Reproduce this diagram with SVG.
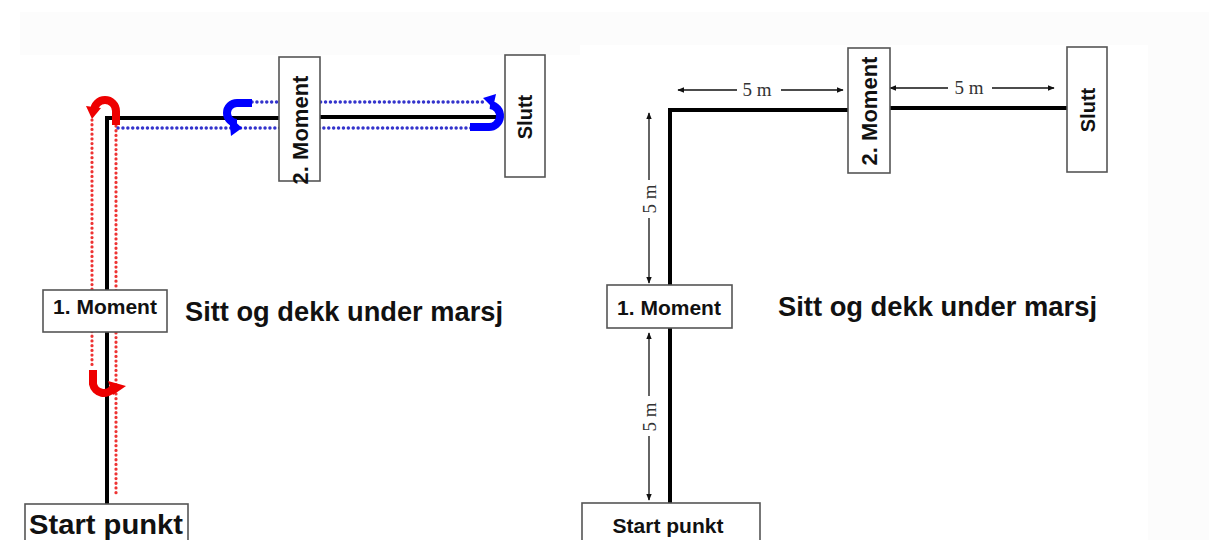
<svg xmlns="http://www.w3.org/2000/svg" width="1209" height="540" viewBox="0 0 1209 540">
<style>
.box{fill:#fff;stroke:#555;stroke-width:1.6}
.path{fill:none;stroke:#000;stroke-width:4}
.lbl{font-family:"Liberation Sans",Arial,sans-serif;font-weight:bold;fill:#111}
.dim{font-family:"Liberation Serif","Times New Roman",serif;fill:#333;font-size:19px}
.dimline{stroke:#111;stroke-width:1.3;fill:none}
.red{fill:none;stroke:#e33;stroke-width:3.2;stroke-dasharray:0.1 4.6;stroke-linecap:round}
.blue{fill:none;stroke:#33c;stroke-width:3.4;stroke-dasharray:0.1 4.8;stroke-linecap:round}
.redarc{fill:none;stroke:#e00;stroke-width:8}
.bluearc{fill:none;stroke:#00f;stroke-width:8}
</style>
<defs>
<marker id="ah" viewBox="0 0 10 10" refX="9" refY="5" markerWidth="7" markerHeight="7" orient="auto-start-reverse" markerUnits="userSpaceOnUse">
<path d="M0,1 L10,5 L0,9 Z" fill="#111"/>
</marker>
</defs>
<rect width="1209" height="540" fill="#fff"/>
<rect x="20" y="12" width="1130" height="43" fill="#fcfcfc"/>
<rect x="1148" y="12" width="61" height="528" fill="#fcfcfc"/>
<rect x="580" y="45" width="568" height="10" fill="#fff"/>

<g id="connectors">
<path class="path" d="M107,505 L107,118 L280,118"/>
<path class="path" d="M320,117 L500,117" stroke-width="5"/>
<path class="red" d="M92,120 L92,368"/>
<path class="red" d="M116,126 L116,495"/>
<path class="blue" d="M252,102 L484,102"/>
<path class="blue" d="M118,128 L474,128"/>
<path class="path" d="M670,505 L670,110 L849,110"/>
<path class="path" d="M890,108 L1068,108"/>
<path class="dimline" d="M737,90 L678,90" marker-end="url(#ah)"/>
<path class="dimline" d="M781,90 L843,90" marker-end="url(#ah)"/>
<path class="dimline" d="M948,88 L890,88" marker-end="url(#ah)"/>
<path class="dimline" d="M992,88 L1054,88" marker-end="url(#ah)"/>
<path class="dimline" d="M649,180 L649,113" marker-end="url(#ah)"/>
<path class="dimline" d="M649,218 L649,283" marker-end="url(#ah)"/>
<path class="dimline" d="M649,396 L649,333" marker-end="url(#ah)"/>
<path class="dimline" d="M649,436 L649,500" marker-end="url(#ah)"/>
<text class="dim" x="757" y="96" text-anchor="middle">5 m</text>
<text class="dim" x="969" y="94" text-anchor="middle">5 m</text>
<text class="dim" transform="translate(656,199) rotate(-90)" text-anchor="middle">5 m</text>
<text class="dim" transform="translate(656,417) rotate(-90)" text-anchor="middle">5 m</text>
</g>

<g id="turn-arrows">
<path class="redarc" d="M116,125 L116,111 A11,11 0 0 0 94,111"/>
<polygon points="86,106 101,108 92,119" fill="#e00"/>
<path class="redarc" d="M93,370 L93,384 A11,11 0 0 0 113,388"/>
<polygon points="108,381 126,386 113,395" fill="#e00"/>
<path class="bluearc" d="M252,103 L237,103 A10,10 0 0 0 237,123"/>
<polygon points="229,116 242,128 231,136" fill="#00f"/>
<path class="bluearc" d="M470,127 L488,127 A11,11 0 0 0 490,105"/>
<polygon points="483,98 496,94 493,108" fill="#00f"/>
</g>

<g id="start-left">
<rect class="box" x="25" y="504" width="163" height="40"/>
<text class="lbl" x="106" y="534" text-anchor="middle" font-size="28" textLength="154" lengthAdjust="spacingAndGlyphs">Start punkt</text>
</g>
<g id="moment1-left">
<rect class="box" x="43" y="290" width="124" height="42"/>
<text class="lbl" x="105" y="314" text-anchor="middle" font-size="21">1. Moment</text>
</g>
<g id="moment2-left">
<rect class="box" x="279" y="57" width="41" height="124"/>
<text class="lbl" transform="translate(308,130) rotate(-90)" text-anchor="middle" font-size="22">2. Moment</text>
</g>
<g id="slutt-left">
<rect class="box" x="505" y="55" width="40" height="122"/>
<text class="lbl" transform="translate(532,117) rotate(-90)" text-anchor="middle" font-size="20">Slutt</text>
</g>
<text class="lbl" x="185" y="321" font-size="27" textLength="318" lengthAdjust="spacingAndGlyphs">Sitt og dekk under marsj</text>

<g id="start-right">
<rect class="box" x="582" y="503" width="178" height="42"/>
<text class="lbl" x="668" y="533" text-anchor="middle" font-size="21">Start punkt</text>
</g>
<g id="moment1-right">
<rect class="box" x="607" y="285" width="125" height="43"/>
<text class="lbl" x="669" y="315" text-anchor="middle" font-size="21">1. Moment</text>
</g>
<g id="moment2-right">
<rect class="box" x="848" y="48" width="42" height="125"/>
<text class="lbl" transform="translate(877,111) rotate(-90)" text-anchor="middle" font-size="22">2. Moment</text>
</g>
<g id="slutt-right">
<rect class="box" x="1067" y="47" width="40" height="125"/>
<text class="lbl" transform="translate(1095,110) rotate(-90)" text-anchor="middle" font-size="20">Slutt</text>
</g>
<text class="lbl" x="778" y="316" font-size="27" textLength="319" lengthAdjust="spacingAndGlyphs">Sitt og dekk under marsj</text>
</svg>
